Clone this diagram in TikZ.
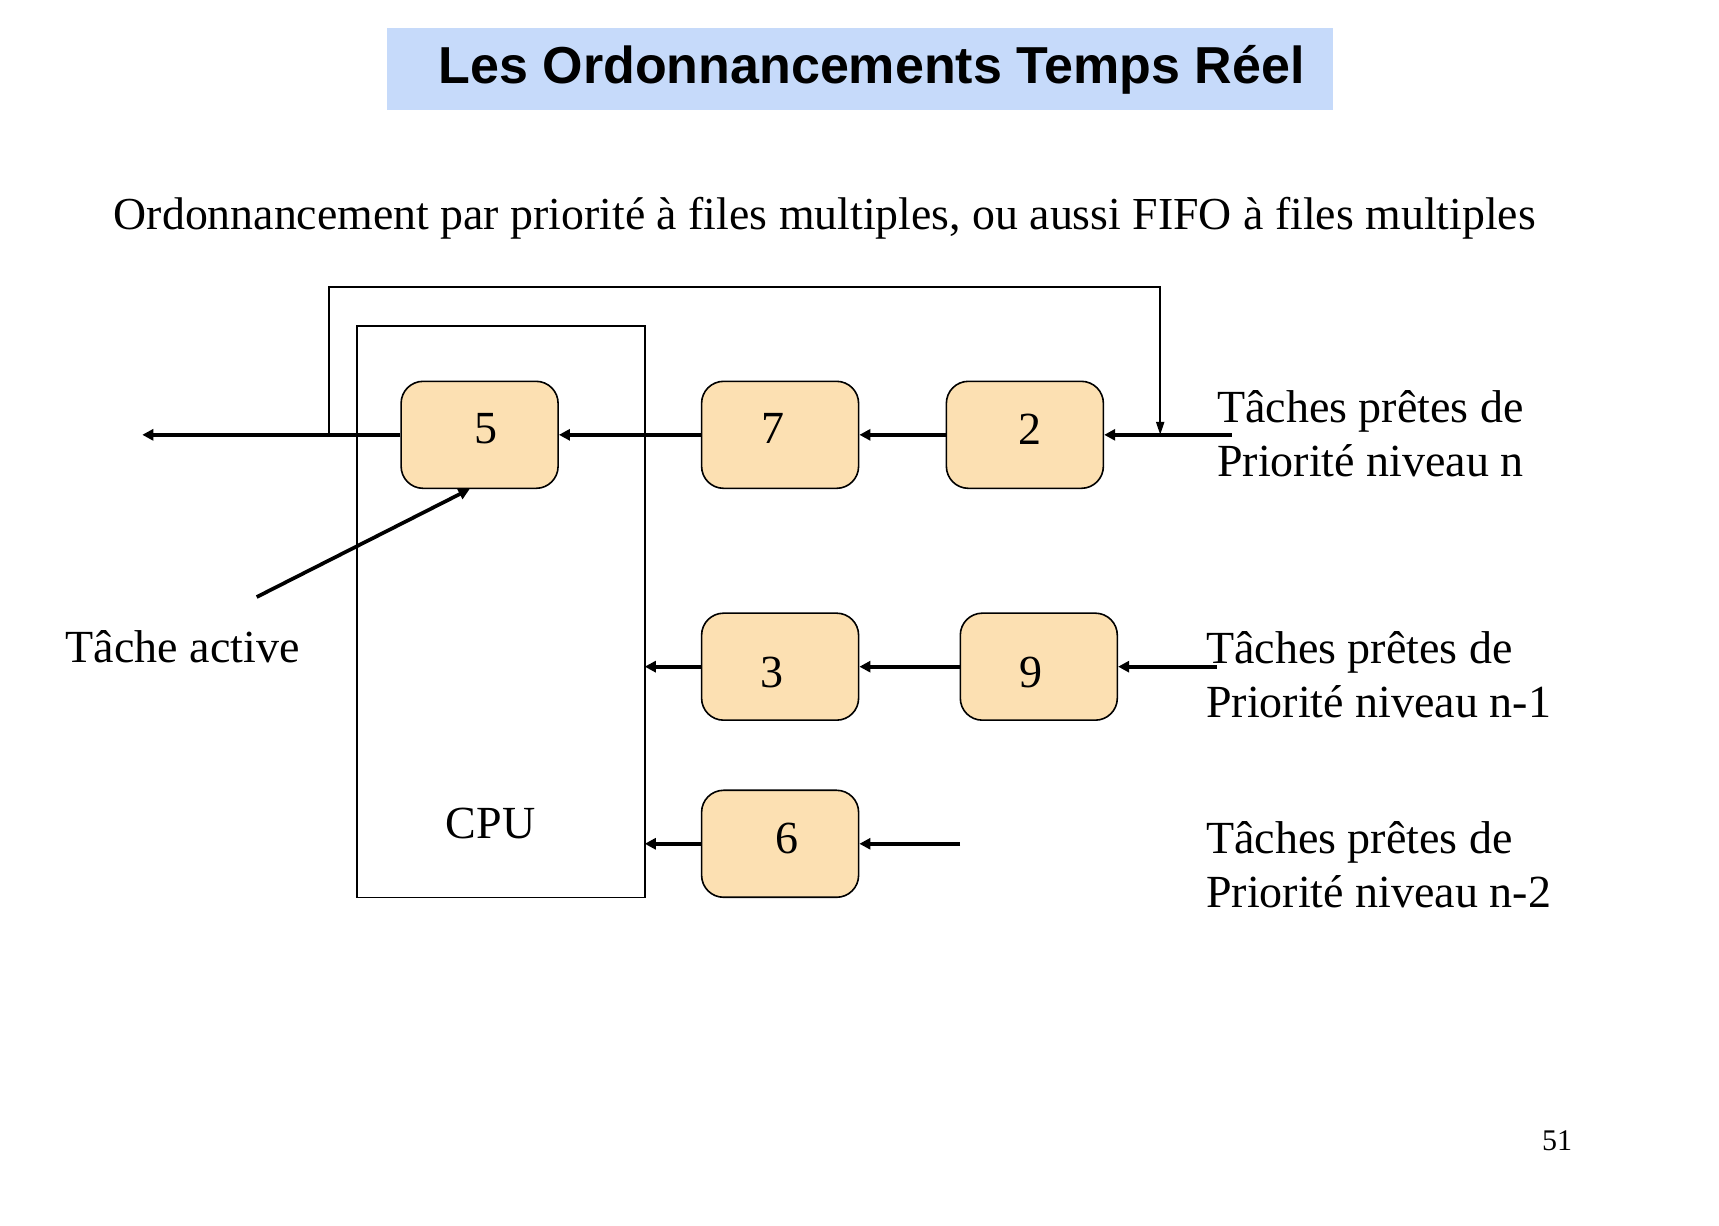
\documentclass[tikz,border=0pt]{standalone}
\usepackage{fontspec}
\setmainfont{Liberation Serif}
\newfontfamily\titlefont{Liberation Sans}
\usetikzlibrary{arrows.meta}

\definecolor{taskfill}{RGB}{252,224,178}
\definecolor{titlefill}{RGB}{198,218,250}

\tikzset{
    task/.style={draw, line width=1.6pt, fill=taskfill, rounded corners=22pt,
        minimum width=157pt, minimum height=107pt, inner sep=0pt},
    num/.style={font=\fontsize{46}{46}\selectfont, inner sep=0pt},
    flow/.style={line width=3.7pt, -{Triangle[length=11pt,width=11pt]}},
    loopline/.style={line width=2pt},
    lbl/.style={font=\fontsize{46}{54}\selectfont, align=left, inner sep=0pt}
}

\begin{document}
\begin{tikzpicture}[x=0.995pt,y=-0.995pt]
    \useasboundingbox (0,0) rectangle (1727.6,1231.2);

    \fill[titlefill] (389,28) rectangle (1340,111);
    \node[font=\titlefont\bfseries\fontsize{52}{52}\selectfont] (title) at (876,70) {Les Ordonnancements Temps Réel};

    \node[font=\fontsize{45.8}{46}\selectfont] (subtitle) at (829,219) {Ordonnancement par priorité à files multiples, ou aussi FIFO à files multiples};

    \coordinate (cpu_nw) at (359,328);
    \coordinate (cpu_se) at (648,902);
    \draw[line width=1.8pt] (cpu_nw) rectangle (cpu_se);
    \node[font=\fontsize{46}{46}\selectfont] (cpu) at (493,828) {CPU};

    \node[task] (t5) at (482,437) {};
    \node[task] (t7) at (784,437) {};
    \node[task] (t2) at (1030,437) {};
    \node[task] (t3) at (784,670) {};
    \node[task] (t9) at (1044,670) {};
    \node[task] (t6) at (784,848) {};

    \node[num] (num5) at (488,431) {5};
    \node[num] (num7) at (777,431) {7};
    \node[num] (num2) at (1035,431) {2};
    \node[num] (num3) at (776,676) {3};
    \node[num] (num9) at (1036,676) {9};
    \node[num] (num6) at (791,843) {6};

    \coordinate (out_n) at (143,437);
    \coordinate (in_n) at (1238,437);
    \coordinate (in_n1) at (1223,670);
    \coordinate (in_n2) at (965,848);
    \coordinate (loop_a) at (331,437);
    \coordinate (loop_b) at (331,288);
    \coordinate (loop_c) at (1166,288);
    \coordinate (loop_d) at (1166,437);
    \coordinate (active) at (258,600);

    % niveau n
    \draw[flow] (in_n) -- (t2);
    \draw[flow] (t2) -- (t7);
    \draw[flow] (t7) -- (t5);
    \draw[flow] (t5) -- (out_n);
    \draw[loopline, -{Triangle[length=13pt,width=8pt]}] (loop_a) -- (loop_b) -- (loop_c) -- (loop_d);

    % niveau n-1
    \draw[flow] (in_n1) -- (t9);
    \draw[flow] (t9) -- (t3);
    \draw[flow] (t3) -- (t3 -| cpu_se);

    % niveau n-2
    \draw[flow] (in_n2) -- (t6);
    \draw[flow] (t6) -- (t6 -| cpu_se);

    \draw[flow] (active) -- ([xshift=-10pt]t5.south);

    \node[lbl, anchor=west] (lbl_act) at (66,650) {Tâche active};
    \node[lbl, anchor=west] (lbl_n) at (1223,436) {Tâches prêtes de\\Priorité niveau n};
    \node[lbl, anchor=west] (lbl_n1) at (1212,678) {Tâches prêtes de\\Priorité niveau n-1};
    \node[lbl, anchor=west] (lbl_n2) at (1212,869) {Tâches prêtes de\\Priorité niveau n-2};

    \node[font=\fontsize{30}{30}\selectfont] (page) at (1565,1146) {51};
\end{tikzpicture}
\end{document}
